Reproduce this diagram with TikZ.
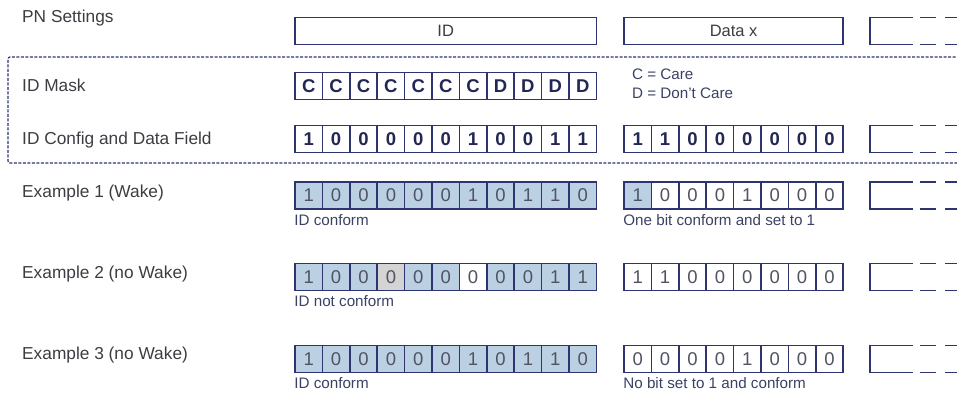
\documentclass[tikz,border=0pt]{standalone}
\usepackage{fontspec}
\setmainfont{Liberation Sans}
\usetikzlibrary{positioning}
\definecolor{pnnavy}{RGB}{45,52,112}
\definecolor{cellblue}{RGB}{188,208,228}
\definecolor{cellgray}{RGB}{212,212,212}
\definecolor{labelgray}{RGB}{60,60,66}
\definecolor{notetext}{RGB}{58,66,100}
\definecolor{bitgray}{RGB}{80,84,98}
\begin{document}
\begin{tikzpicture}[x=1pt,y=-1pt,font=\fontsize{16}{19}\selectfont]
  \tikzset{
    field/.style={draw=pnnavy,line width=1.6pt,minimum height=27pt,
      inner sep=0pt,text=labelgray,font=\fontsize{16.5}{19}\selectfont},
    bitcell/.style={draw=pnnavy,line width=1.6pt,minimum width=27.4pt,
      minimum height=27pt,inner sep=0pt,text=bitgray,
      font=\fontsize{18.5}{18}\selectfont},
    setbit/.style={bitcell,text=pnnavy!75!black,
      font=\fontsize{18.5}{18}\selectfont\bfseries},
    rowlabel/.style={anchor=west,inner sep=0pt,text=labelgray,
      font=\fontsize{17.3}{19}\selectfont},
    note/.style={inner xsep=0pt,inner ysep=4pt,text=notetext,
      font=\fontsize{15.2}{19}\selectfont},
    stub/.style={draw=pnnavy,line width=1.6pt}
  }
  \useasboundingbox (0,0) rectangle (957,396);

  \node[rowlabel] (pnlabel) at (22,18) {PN Settings};
  \node[rowlabel] (masklabel) at (22,85) {ID Mask};
  \node[rowlabel] (cfglabel) at (22,140) {ID Config and Data Field};
  \node[rowlabel] (ex1label) at (22,193) {Example 1 (Wake)};
  \node[rowlabel] (ex2label) at (22,274) {Example 2 (no Wake)};
  \node[rowlabel] (ex3label) at (22,355) {Example 3 (no Wake)};

  \node[field,minimum width=301.4pt] (idfield) at (445.7,31) {ID};
  \node[field,minimum width=219.2pt] (datafield) at (733.6,31) {Data x};

  \draw[draw=pnnavy,line width=1.2pt,dash pattern=on 3pt off 1.5pt,
    rounded corners=2pt] (960,57) -- (8,57) -- (8,163) -- (960,163);

  \foreach \b [count=\i] in {C,C,C,C,C,C,C,D,D,D,D}
    \node[setbit] (mask\i) at ({281.3+27.4*\i},86) {\b};
  \node[note,anchor=north west,align=left,inner ysep=0pt] (legend)
    at (632,69) {C = Care\\D = Don't Care};

  \foreach \b [count=\i] in {1,0,0,0,0,0,1,0,0,1,1}
    \node[setbit] (cfgid\i) at ({281.3+27.4*\i},139) {\b};
  \foreach \b [count=\i] in {1,1,0,0,0,0,0,0}
    \node[setbit] (cfgdata\i) at ({610.3+27.4*\i},139) {\b};

  \foreach \b [count=\i] in {1,0,0,0,0,0,1,0,1,1,0}
    \node[bitcell,fill=cellblue] (ex1id\i) at ({281.3+27.4*\i},195.5) {\b};
  \foreach \b/\f [count=\i] in {1/cellblue,0/white,0/white,0/white,
      1/white,0/white,0/white,0/white}
    \node[bitcell,fill=\f] (ex1data\i) at ({610.3+27.4*\i},195.5) {\b};
  \node[note,below right=0pt of ex1id1.south west] (ex1idnote) {ID conform};
  \node[note,below right=0pt of ex1data1.south west] (ex1datanote)
    {One bit conform and set to 1};

  \foreach \b/\f [count=\i] in {1/cellblue,0/cellblue,0/cellblue,0/cellgray,
      0/cellblue,0/cellblue,0/white,0/cellblue,0/cellblue,1/cellblue,1/cellblue}
    \node[bitcell,fill=\f] (ex2id\i) at ({281.3+27.4*\i},277) {\b};
  \foreach \b [count=\i] in {1,1,0,0,0,0,0,0}
    \node[bitcell,fill=white] (ex2data\i) at ({610.3+27.4*\i},277) {\b};
  \node[note,below right=0pt of ex2id1.south west] (ex2idnote) {ID not conform};

  \foreach \b [count=\i] in {1,0,0,0,0,0,1,0,1,1,0}
    \node[bitcell,fill=cellblue] (ex3id\i) at ({281.3+27.4*\i},359) {\b};
  \foreach \b [count=\i] in {0,0,0,0,1,0,0,0}
    \node[bitcell,fill=white] (ex3data\i) at ({610.3+27.4*\i},359) {\b};
  \node[note,below right=0pt of ex3id1.south west] (ex3idnote) {ID conform};
  \node[note,below right=0pt of ex3data1.south west] (ex3datanote)
    {No bit set to 1 and conform};

  \foreach \r in {31,139,195.5,277,359} {
    \draw[stub] (913,\r-13.5) -- (870,\r-13.5) -- (870,\r+13.5) -- (913,\r+13.5);
    \draw[stub,dash pattern=on 16pt off 9pt]
      (920,\r-13.5) -- (960,\r-13.5) (920,\r+13.5) -- (960,\r+13.5);
  }
\end{tikzpicture}
\end{document}
